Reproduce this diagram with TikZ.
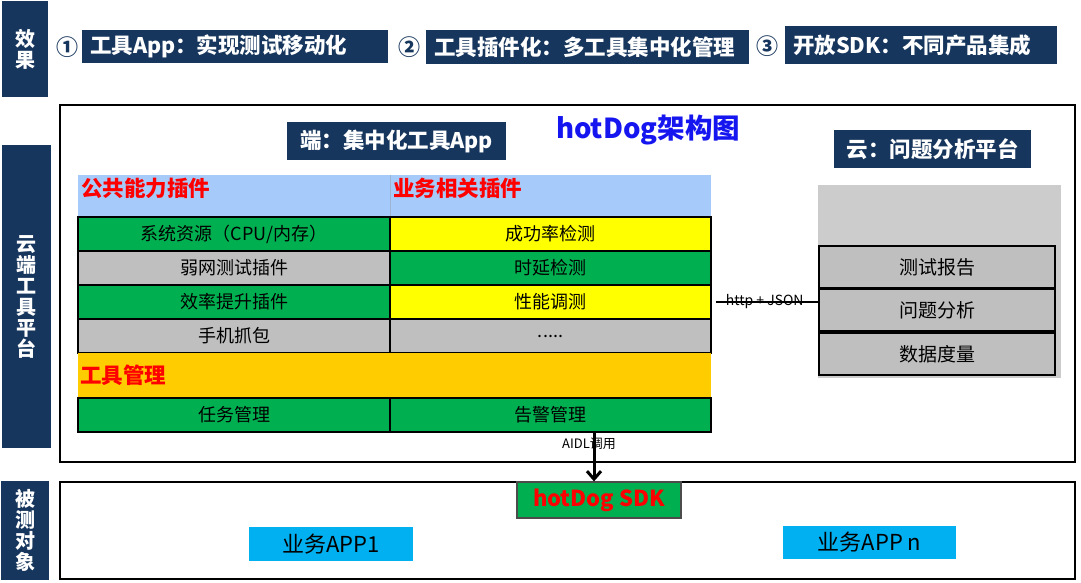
\documentclass[tikz,border=0pt]{standalone}
\usepackage{fontspec}
\setmainfont{Noto Sans CJK SC}
\usetikzlibrary{arrows.meta}
\definecolor{navy}{HTML}{17365D}
\definecolor{cellgreen}{HTML}{00B050}
\definecolor{cellyellow}{HTML}{FFFF00}
\definecolor{cellgray}{HTML}{BFBFBF}
\definecolor{headblue}{HTML}{A6CBFA}
\definecolor{mgmtorange}{HTML}{FFCC00}
\definecolor{cloudgray}{HTML}{CCCCCC}
\definecolor{appcyan}{HTML}{00B0F0}
\definecolor{titleblue}{HTML}{1515F0}
\tikzset{
    every node/.style={rectangle, inner sep=0pt, font=\fontsize{18}{20}\selectfont}
}
\tikzset{
    banner/.style={fill=navy, text=white, font=\bfseries\fontsize{21.5}{24}\selectfont},
    goal/.style={banner, align=left, inner xsep=8pt},
    circnum/.style={text=navy, font=\bfseries\fontsize{22}{22}\selectfont},
    sidebar/.style={fill=navy, text=white, align=center,
    	font=\bfseries\fontsize{20}{21}\selectfont},
    cell/.style={draw=black, line width=1.2pt, minimum height=34pt},
    cloudrow/.style={cell, fill=cellgray, minimum width=236pt, minimum height=42pt,
    	font=\fontsize{19}{20}\selectfont},
    headtext/.style={text=red, font=\bfseries\fontsize{21.5}{22}\selectfont},
    frame/.style={draw=black, line width=2.8pt, minimum width=1015pt}
}

\begin{document}
\begin{tikzpicture}[x=1pt, y=-1pt]
  \useasboundingbox (0,0) rectangle (1081,582);

  % left column
  \node (effect) [sidebar, minimum width=46pt, minimum height=96pt] at (25,49) {效\\果};
  \node (platform) [sidebar, minimum width=49pt, minimum height=303pt] at (26.5,296.5) {云\\端\\工\\具\\平\\台};
  \node (target) [sidebar, minimum width=48pt, minimum height=99pt] at (25,530) {被\\测\\对\\象};

  % goals
  \node (n1) [circnum] at (67,47) {①};
  \node (goal1) [goal, text width=290pt, minimum height=33pt] at (235,46.5) {工具App：实现测试移动化};
  \node (n2) [circnum] at (409,47) {②};
  \node (goal2) [goal, text width=307pt, minimum height=34pt] at (587.5,47) {工具插件化：多工具集中化管理};
  \node (n3) [circnum] at (767,46) {③};
  \node (goal3) [goal, text width=256pt, minimum height=38pt] at (921,45) {开放SDK：不同产品集成};

  % platform frame
  \node (platbox) [frame, minimum height=357pt] at (567.5,283.5) {};
  \node (endapp) [banner, minimum width=219pt, minimum height=38pt] at (396.5,141) {端：集中化工具App};
  \node (title) [text=titleblue, font=\bfseries\fontsize{27.5}{28}\selectfont] at (648,130) {hotDog架构图};
  \node (cloud) [banner, minimum width=197pt, minimum height=38pt] at (932.5,149) {云：问题分析平台};

  % plugins
  \node (pubhead) [fill=headblue, minimum width=312pt, minimum height=42pt,
  	label={[headtext, anchor=north west, inner sep=3pt]north west:公共能力插件}] at (234,196) {};
  \node (bizhead) [fill=headblue, minimum width=321pt, minimum height=42pt,
  	label={[headtext, anchor=north west, inner sep=3pt]north west:业务相关插件}] at (550.5,196) {};
  \draw [headblue!70!gray, line width=0.6pt] (bizhead.north west) -- (bizhead.south west);

  \node (sysres) [cell, fill=cellgreen, minimum width=312pt] at (234,234) {系统资源（CPU/内存）};
  \node (weaknet) [cell, fill=cellgray, minimum width=312pt] at (234,268) {弱网测试插件};
  \node (effic) [cell, fill=cellgreen, minimum width=312pt] at (234,302) {效率提升插件};
  \node (capture) [cell, fill=cellgray, minimum width=312pt] at (234,336) {手机抓包};

  \node (success) [cell, fill=cellyellow, minimum width=321pt] at (550.5,234) {成功率检测};
  \node (delay) [cell, fill=cellgreen, minimum width=321pt] at (550.5,268) {时延检测};
  \node (perf) [cell, fill=cellyellow, minimum width=321pt] at (550.5,302) {性能调测};
  \node (more) [cell, fill=cellgray, minimum width=321pt] at (550.5,336) {.....};

  \node (mgmt) [fill=mgmtorange, minimum width=633pt, minimum height=45pt,
  	label={[headtext, anchor=west, inner sep=2pt]west:工具管理}] at (394.5,375.5) {};
  \node (task) [cell, fill=cellgreen, minimum width=312pt] at (234,415) {任务管理};
  \node (alarm) [cell, fill=cellgreen, minimum width=321pt] at (550.5,415) {告警管理};

  % cloud side
  \node (cloudbg) [fill=cloudgray, minimum width=243pt, minimum height=193pt] at (939.5,281.5) {};
  \node (report) [cloudrow] at (937,267) {测试报告};
  \node (analysis) [cloudrow] at (937,310) {问题分析};
  \node (metric) [cloudrow] at (937,354) {数据度量};

  \draw [line width=1.4pt, shorten <=4pt] (perf.east) -- (perf.east -| cloudbg.west)
  	node [midway, font=\fontsize{14}{14}\selectfont] {http + JSON};

  % tested apps
  \node (appbox) [frame, minimum height=97pt] at (567.5,530.5) {};
  \node (sdk) [draw=black!70, line width=1.2pt, fill=cellgreen, text=red, minimum width=164pt, minimum height=36pt,
  	font=\bfseries\fontsize{22}{22}\selectfont] at (599,500) {hotDog SDK};
  \node (app1) [fill=appcyan, minimum width=164pt, minimum height=34pt, font=\fontsize{22}{22}\selectfont] at (331,544) {业务APP1};
  \node (appn) [fill=appcyan, minimum width=173pt, minimum height=33pt, font=\fontsize{22}{22}\selectfont] at (869.5,542.5) {业务APP n};

  \draw [line width=3pt, -{Straight Barb[length=8pt, width=14pt]}]
  	([xshift=-5pt]sdk.north |- alarm.south) -- ([xshift=-5pt]sdk.north)
  	node [pos=0.22, xshift=-5pt, font=\fontsize{13}{13}\selectfont] {AIDL调用};
\end{tikzpicture}
\end{document}
